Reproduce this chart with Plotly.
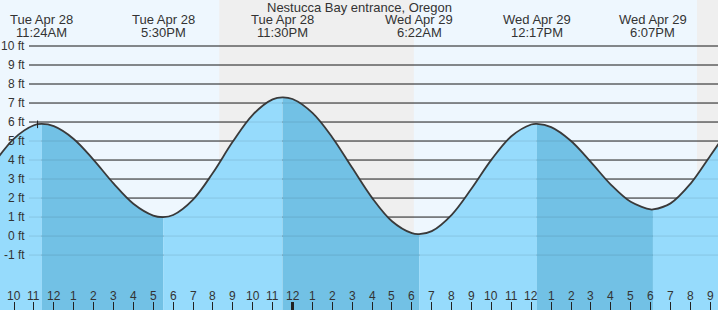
import plotly.graph_objects as go
import pandas as pd

# ---------------- data ----------------
title = "Nestucca Bay entrance, Oregon"
base_time = pd.Timestamp("2026-04-28 00:00")

event_times = ["2026-04-28 11:24", "2026-04-28 17:30", "2026-04-28 23:30",
               "2026-04-29 06:22", "2026-04-29 12:17", "2026-04-29 18:07"]
event_heights = [5.9, 1.0, 7.3, 0.1, 5.9, 1.4]
event_day_labels = ["Tue Apr 28", "Tue Apr 28", "Tue Apr 28",
                    "Wed Apr 29", "Wed Apr 29", "Wed Apr 29"]
event_time_labels = ["11:24AM", "5:30PM", "11:30PM", "6:22AM", "12:17PM", "6:07PM"]

# hourly water level (hours since Tue 00:00)
hour_times = list(range(9, 47))
hour_heights = [3.83, 5.13, 5.83, 5.78, 5.11, 4.01, 2.77, 1.70, 1.08, 1.11,
                1.92, 3.33, 4.97, 6.38, 7.19, 7.21, 6.48, 5.19, 3.59, 2.01,
                0.78, 0.15, 0.26, 1.12, 2.50, 4.02, 5.25, 5.87, 5.73, 5.00,
                3.89, 2.71, 1.80, 1.40, 1.72, 2.75, 4.23, 5.75]

night_starts = ["2026-04-28 20:19", "2026-04-29 20:20"]
night_ends = ["2026-04-29 06:06", "2026-04-30 06:05"]

now_time = "2026-04-28 11:11"
now_height = 5.88

y_tick_values = [10, 9, 8, 7, 6, 5, 4, 3, 2, 1, 0, -1]
y_tick_labels = ["10 ft", "9 ft", "8 ft", "7 ft", "6 ft", "5 ft", "4 ft",
                 "3 ft", "2 ft", "1 ft", "0 ft", "-1 ft"]

hour_tick_values = list(range(10, 46))
hour_tick_labels = ["10", "11", "12", "1", "2", "3", "4", "5", "6", "7", "8", "9",
                    "10", "11", "12", "1", "2", "3", "4", "5", "6", "7", "8", "9",
                    "10", "11", "12", "1", "2", "3", "4", "5", "6", "7", "8", "9"]
midnight_tick = 24

x_range = [9.296, 45.387]
y_range = [-3.89, 12.42]

# ---------------- styles ----------------
W, H = 718, 310
FONT = "Liberation Sans, Arial, sans-serif"
TXT = "#333333"
DAY_BG = "#eef7fe"
NIGHT_BG = "#efefef"
RISE_FILL = "#96dbfc"
FALL_FILL = "#72c1e5"
LINE = "#3a3a3a"
GRID = "#262626"


def hrs(s):
    return (pd.Timestamp(s) - base_time) / pd.Timedelta(hours=1)


ev_x = [hrs(t) for t in event_times]
pts = sorted(list(zip(hour_times, hour_heights)) + list(zip(ev_x, event_heights)))
px_all = [p[0] for p in pts]
py_all = [p[1] for p in pts]

fig = go.Figure()

# fills per rising / falling segment
bounds = [hour_times[0]] + ev_x + [hour_times[-1]]
for a, b in zip(bounds[:-1], bounds[1:]):
    seg = [p for p in pts if a - 1e-9 <= p[0] <= b + 1e-9]
    sx = [p[0] for p in seg]
    sy = [p[1] for p in seg]
    color = FALL_FILL if sy[-1] < sy[0] else RISE_FILL
    fig.add_trace(go.Scatter(x=[a, b], y=[y_range[0] - 2] * 2, mode="lines",
                             line=dict(width=0), hoverinfo="skip", showlegend=False))
    fig.add_trace(go.Scatter(x=sx, y=sy, mode="lines", fill="tonexty",
                             fillcolor=color, line=dict(width=0, shape="spline"),
                             hoverinfo="skip", showlegend=False))

# tide curve
fig.add_trace(go.Scatter(x=px_all, y=py_all, mode="lines",
                         line=dict(color=LINE, width=1.8, shape="spline"),
                         hoverinfo="skip", showlegend=False))

shapes = []
# night bands
for s, e in zip(night_starts, night_ends):
    shapes.append(dict(type="rect", xref="x", yref="paper", x0=hrs(s), x1=hrs(e),
                       y0=0, y1=1, fillcolor=NIGHT_BG, line=dict(width=0), layer="below"))
# grid lines (dark, behind fill)
for v in y_tick_values:
    shapes.append(dict(type="line", xref="paper", yref="y", x0=29 / W, x1=1, y0=v, y1=v,
                       line=dict(color=GRID, width=1), layer="below"))
# faint grid lines over the fill
for v in y_tick_values:
    shapes.append(dict(type="line", xref="paper", yref="y", x0=29 / W, x1=1, y0=v, y1=v,
                       line=dict(color="rgba(0,0,0,0.10)", width=1), layer="above"))
# midnight tick
shapes.append(dict(type="line", xref="x", yref="paper", x0=midnight_tick, x1=midnight_tick,
                   y0=0, y1=8 / H, line=dict(color="#222222", width=3), layer="above"))
# current-time marker
shapes.append(dict(type="line", xref="x", yref="y", x0=hrs(now_time), x1=hrs(now_time),
                   y0=now_height - 0.2, y1=now_height + 0.2,
                   line=dict(color="#222222", width=1), layer="above"))

ann = []
ann.append(dict(text=title, xref="paper", yref="paper", x=0.5, y=1 - 8 / H,
                xanchor="center", yanchor="middle", showarrow=False,
                font=dict(family=FONT, size=13, color=TXT)))
for x, d, t in zip(ev_x, event_day_labels, event_time_labels):
    ann.append(dict(text=d, xref="x", yref="paper", x=x, y=1 - 19.5 / H,
                    xanchor="center", yanchor="middle", showarrow=False,
                    font=dict(family=FONT, size=13, color=TXT)))
    ann.append(dict(text=t, xref="x", yref="paper", x=x, y=1 - 32 / H,
                    xanchor="center", yanchor="middle", showarrow=False,
                    font=dict(family=FONT, size=13, color=TXT)))
for v, lab in zip(y_tick_values, y_tick_labels):
    ann.append(dict(text=lab, xref="paper", yref="y", x=27 / W, y=v,
                    xanchor="right", yanchor="middle", showarrow=False,
                    font=dict(family=FONT, size=12, color=TXT)))
for v, lab in zip(hour_tick_values, hour_tick_labels):
    ann.append(dict(text=lab, xref="x", yref="paper", x=v, y=14 / H,
                    xanchor="center", yanchor="middle", showarrow=False,
                    font=dict(family=FONT, size=12, color=TXT)))

fig.update_layout(
    width=W, height=H, margin=dict(l=0, r=0, t=0, b=0),
    paper_bgcolor=DAY_BG, plot_bgcolor=DAY_BG,
    shapes=shapes, annotations=ann, showlegend=False,
    xaxis=dict(range=x_range, showgrid=False, zeroline=False, showline=False,
               ticks="inside", tickvals=hour_tick_values, ticklen=8, tickwidth=1,
               tickcolor="#222222", showticklabels=False, fixedrange=True),
    yaxis=dict(range=y_range, showgrid=False, zeroline=False, showline=False,
               showticklabels=False, ticks="", fixedrange=True),
)

fig.write_html("out.html", config={"displayModeBar": False})
